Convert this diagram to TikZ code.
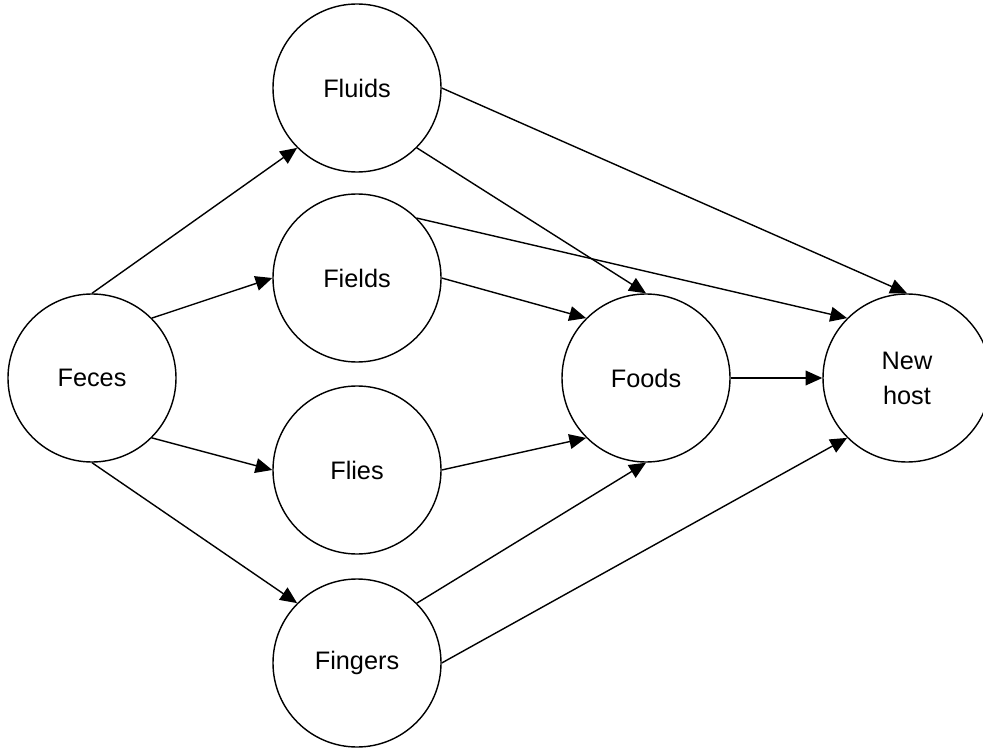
\documentclass[tikz,border=0pt]{standalone}
\usepackage{fontspec}
\setmainfont{Liberation Sans}
\usetikzlibrary{positioning, calc}
\usetikzlibrary{arrows.meta}

\tikzset{
  place/.style={circle, draw, line width=1pt, minimum size=4.2cm, inner sep=0pt,
                align=center, font=\fontsize{18}{25}\selectfont}
}

\begin{document}
\begin{tikzpicture}[->,>={Triangle[length=4.2mm,width=3.7mm]},line width=1pt]

\useasboundingbox (0,0) rectangle (24.575,18.725);
\clip (0,0) rectangle (24.575,18.725);

\node[place] (Feces)   at (2.3,9.275)    {Feces};
\node[place] (Fluids)  at (8.925,16.525) {Fluids};
\node[place] (Fields)  at (8.925,11.775) {Fields};
\node[place] (Flies)   at (8.925,6.975)  {Flies};
\node[place] (Fingers) at (8.925,2.15)   {Fingers};
\node[place] (Foods)   at (16.15,9.275)  {Foods};
\node[place] (Host)    at (22.675,9.275) {New\\host};

\path
	(Feces.north)      edge (Fluids.south west)
	(Feces.north east) edge (Fields.west)
	(Feces.south east) edge (Flies.west)
	(Feces.south)      edge (Fingers.north west)

	(Fluids.east)       edge (Host.north)
	(Fluids.south east) edge (Foods.north)
	(Fields.north east) edge (Host.north west)
	(Fields.east)       edge (Foods.north west)
	(Flies.east)        edge (Foods.south west)
	(Fingers.north east) edge (Foods.south)
	(Fingers.east)      edge (Host.south west)

	(Foods.east) edge (Host.west);
\end{tikzpicture}
\end{document}
